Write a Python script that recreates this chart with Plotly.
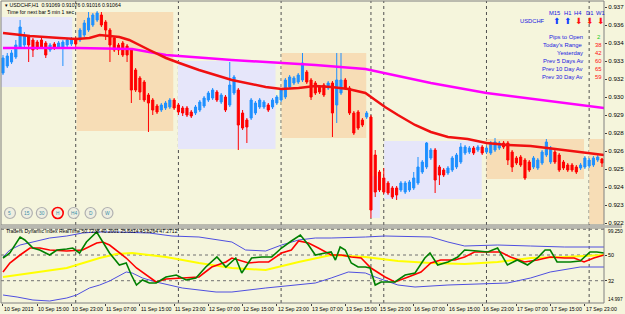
import plotly.graph_objects as go

# ---------------- data ----------------
bar_index = list(range(141))
opens = [0.93238,0.93287,0.93315,0.93350,0.93420,0.93434,0.93490,0.93469,0.93455,0.93469,
         0.93448,0.93399,0.93441,0.93420,0.93413,0.93434,0.93441,0.93476,0.93469,0.93504,
         0.93539,0.93574,0.93609,0.93644,0.93595,0.93539,0.93483,0.93434,0.93448,0.93427,
         0.93399,0.93259,0.93203,0.93175,0.93084,0.93049,0.93007,0.92979,0.92993,0.93000,
         0.93049,0.93014,0.92993,0.92993,0.92965,0.92958,0.92979,0.93007,0.93049,0.93063,
         0.93105,0.93035,0.93070,0.93014,0.93098,0.93119,0.92958,0.92909,0.92923,0.92958,
         0.93000,0.93000,0.93014,0.93000,0.93028,0.93049,0.93070,0.93140,0.93168,0.93175,
         0.93189,0.93245,0.93189,0.93168,0.93140,0.93154,0.93133,0.93168,0.93014,0.93098,
         0.93189,0.93133,0.92958,0.92965,0.92909,0.92930,0.92930,0.92664,0.92545,0.92503,
         0.92468,0.92433,0.92433,0.92419,0.92405,0.92419,0.92433,0.92468,0.92545,0.92580,
         0.92643,0.92699,0.92580,0.92559,0.92538,0.92559,0.92580,0.92615,0.92678,0.92685,
         0.92713,0.92699,0.92720,0.92685,0.92678,0.92699,0.92713,0.92748,0.92748,0.92685,
         0.92643,0.92650,0.92629,0.92615,0.92580,0.92573,0.92608,0.92664,0.92615,0.92685,
         0.92664,0.92615,0.92594,0.92594,0.92580,0.92573,0.92580,0.92587,0.92594,0.92629,
         0.92636]
highs = [0.93364,0.93378,0.93399,0.93469,0.93609,0.93525,0.93504,0.93483,0.93469,0.93483,
         0.93462,0.93448,0.93455,0.93462,0.93469,0.93483,0.93490,0.93490,0.93553,0.93609,
         0.93665,0.93658,0.93672,0.93665,0.93609,0.93553,0.93497,0.93448,0.93462,0.93441,
         0.93413,0.93273,0.93217,0.93189,0.93098,0.93063,0.93021,0.93028,0.93042,0.93063,
         0.93063,0.93028,0.93007,0.93007,0.92979,0.93014,0.93049,0.93077,0.93112,0.93133,
         0.93119,0.93098,0.93084,0.93315,0.93224,0.93133,0.92979,0.92923,0.93063,0.93042,
         0.93063,0.93049,0.93028,0.93063,0.93084,0.93133,0.93203,0.93224,0.93217,0.93238,
         0.93378,0.93259,0.93203,0.93182,0.93154,0.93168,0.93182,0.93182,0.93378,0.93378,
         0.93203,0.93147,0.92972,0.92979,0.92923,0.92972,0.92944,0.92699,0.92559,0.92573,
         0.92482,0.92447,0.92447,0.92482,0.92482,0.92489,0.92545,0.92650,0.92629,0.92755,
         0.92713,0.92713,0.92594,0.92573,0.92587,0.92657,0.92678,0.92748,0.92734,0.92727,
         0.92727,0.92734,0.92734,0.92727,0.92762,0.92783,0.92762,0.92762,0.92762,0.92699,
         0.92657,0.92664,0.92643,0.92629,0.92657,0.92643,0.92699,0.92776,0.92727,0.92699,
         0.92678,0.92629,0.92608,0.92608,0.92594,0.92608,0.92657,0.92643,0.92657,0.92664,
         0.92643]
lows = [0.93224,0.93273,0.93301,0.93336,0.93406,0.93420,0.93315,0.93350,0.93399,0.93406,
        0.93343,0.93385,0.93399,0.93406,0.93287,0.93420,0.93427,0.93420,0.93455,0.93490,
        0.93525,0.93560,0.93595,0.93560,0.93469,0.93315,0.93385,0.93364,0.93350,0.93315,
        0.93028,0.93105,0.93049,0.93035,0.92825,0.92944,0.92951,0.92965,0.92979,0.92986,
        0.92979,0.92944,0.92937,0.92930,0.92923,0.92944,0.92965,0.92993,0.93035,0.93049,
        0.93035,0.93021,0.92965,0.93000,0.93084,0.92699,0.92839,0.92748,0.92909,0.92944,
        0.92986,0.92986,0.92965,0.92986,0.93014,0.93035,0.93056,0.93126,0.93154,0.93161,
        0.93175,0.93161,0.93049,0.93084,0.93091,0.93070,0.93119,0.92790,0.92888,0.93084,
        0.93119,0.92944,0.92804,0.92839,0.92860,0.92916,0.92223,0.92370,0.92405,0.92391,
        0.92384,0.92356,0.92349,0.92405,0.92391,0.92405,0.92419,0.92454,0.92531,0.92566,
        0.92629,0.92398,0.92454,0.92510,0.92524,0.92545,0.92566,0.92601,0.92664,0.92671,
        0.92664,0.92685,0.92664,0.92671,0.92664,0.92685,0.92699,0.92706,0.92594,0.92545,
        0.92594,0.92580,0.92489,0.92545,0.92566,0.92559,0.92594,0.92650,0.92601,0.92601,
        0.92545,0.92559,0.92545,0.92545,0.92531,0.92559,0.92566,0.92573,0.92580,0.92615,
        0.92580]
closes = [0.93343,0.93357,0.93378,0.93434,0.93560,0.93504,0.93434,0.93399,0.93413,0.93420,
          0.93364,0.93434,0.93420,0.93448,0.93455,0.93469,0.93476,0.93441,0.93539,0.93588,
          0.93623,0.93644,0.93658,0.93574,0.93539,0.93434,0.93399,0.93399,0.93364,0.93364,
          0.93119,0.93119,0.93105,0.93049,0.93028,0.92979,0.92965,0.93014,0.93028,0.93049,
          0.92993,0.92965,0.92958,0.92944,0.92937,0.93000,0.93035,0.93063,0.93098,0.93119,
          0.93049,0.93084,0.92979,0.93154,0.93210,0.92874,0.92853,0.92860,0.93049,0.93028,
          0.93049,0.93035,0.92979,0.93049,0.93070,0.93119,0.93189,0.93210,0.93203,0.93224,
          0.93308,0.93175,0.93070,0.93098,0.93105,0.93084,0.93168,0.92958,0.93189,0.93189,
          0.93133,0.92958,0.92818,0.92853,0.92874,0.92958,0.92279,0.92405,0.92419,0.92405,
          0.92398,0.92370,0.92384,0.92468,0.92468,0.92475,0.92503,0.92580,0.92615,0.92748,
          0.92699,0.92489,0.92524,0.92524,0.92573,0.92643,0.92664,0.92720,0.92720,0.92713,
          0.92678,0.92720,0.92678,0.92713,0.92748,0.92755,0.92748,0.92720,0.92629,0.92580,
          0.92608,0.92594,0.92503,0.92559,0.92643,0.92629,0.92685,0.92755,0.92713,0.92615,
          0.92559,0.92573,0.92559,0.92559,0.92545,0.92594,0.92643,0.92629,0.92643,0.92650,
          0.92608]

ma_fast_bar = [0, 6.3, 13.3, 17.2, 20.2, 22.6, 27.2, 29.5, 34.2, 38.1, 41.2, 45.8, 53.5, 61.4, 65.1,
               69.1, 73, 76.7, 80.7, 84.7, 87, 89.3, 92.3, 96.3, 100, 104, 108.6, 113, 117.9, 123.3,
               127.2, 131.2, 137, 140.5]
ma_fast_val = [0.93518, 0.93497, 0.93483, 0.93476, 0.93483, 0.93504, 0.93490, 0.93469, 0.93399, 0.93343,
               0.93308, 0.93259, 0.93189, 0.93140, 0.93126, 0.93133, 0.93147, 0.93140, 0.93126, 0.93098,
               0.93049, 0.93000, 0.92944, 0.92874, 0.92825, 0.92790, 0.92776, 0.92748, 0.92734, 0.92727,
               0.92713, 0.92699, 0.92678, 0.92664]
ma_slow_bar = [0, 17.2, 30.2, 38.1, 53.5, 73, 84.7, 100, 113, 131.2, 140.5]
ma_slow_val = [0.93413, 0.93413, 0.93406, 0.93364, 0.93329, 0.93294, 0.93266, 0.93168, 0.93098, 0.93028, 0.92993]

# session boxes (bar range, price range)
box_x0 = [-0.5, 17.2, 40.9, 65.1, 85.8, 89.1, 113.0, 137.0]
box_x1 = [16.2, 39.8, 63.7, 84.9, 88.1, 111.9, 135.8, 141.0]
box_hi = [0.93630, 0.93665, 0.93322, 0.93378, 0.92517, 0.92762, 0.92776, 0.92776]
box_lo = [0.93140, 0.92832, 0.92706, 0.92783, 0.92223, 0.92356, 0.92496, 0.92181]
box_kind = ['asia', 'europe', 'asia', 'europe', 'asia', 'asia', 'europe', 'europe']

day_separators = [17, 41, 65, 86, 89, 113, 137]

price_ticks = [0.93700, 0.93574, 0.93448, 0.93322, 0.93196, 0.93070, 0.92944,
               0.92818, 0.92692, 0.92566, 0.92440, 0.92314, 0.92188]
price_tick_text = ["0.937", "0.936", "0.934", "0.933", "0.932", "0.930", "0.929",
                   "0.928", "0.926", "0.925", "0.924", "0.923", "0.922"]

time_label_bars = [0, 8, 16, 24, 32, 40, 48, 56, 64, 72, 80, 88, 96, 104, 112, 120, 128, 136]
time_labels = ["10 Sep 2013", "10 Sep 15:00", "10 Sep 23:00", "11 Sep 07:00", "11 Sep 15:00",
               "11 Sep 23:00", "12 Sep 07:00", "12 Sep 15:00", "12 Sep 23:00", "13 Sep 07:00",
               "13 Sep 15:00", "15 Sep 23:00", "16 Sep 07:00", "16 Sep 15:00", "16 Sep 23:00",
               "17 Sep 07:00", "17 Sep 15:00", "17 Sep 23:00"]

# Traders Dynamic Index
rsi_bar = [0, 1.6, 4, 5.1, 7, 8.6, 10.9, 12.6, 14.9, 16.3, 17.9, 19.5, 21.9, 23.3, 24.9, 27.2, 28.8, 30,
           31.2, 32.6, 34.2, 35.8, 38.1, 40.5, 42.8, 45.1, 47.4, 50, 52.1, 54.4, 55.8, 58.1, 60.5, 62.8,
           65.1, 67.4, 69.5, 71.4, 73, 75.3, 76.7, 77.7, 78.8, 80, 81.4, 83, 84.7, 85.8, 87, 88.4, 90,
           91.6, 94, 96.3, 98.6, 99.8, 101.6, 104, 106.3, 107.9, 110.9, 113.3, 115.6, 117.9, 120.2,
           122.6, 124.9, 126.7, 127.9, 129.5, 132.6, 134.9, 137.2, 138.8, 140.5]
rsi_val = [47.9, 51.4, 62.6, 60.5, 54.9, 53.5, 50, 53.5, 54.2, 54.9, 51.4, 59.1, 66.1, 59.1, 51.4, 43,
           44.4, 36, 29, 32.5, 30.4, 30.4, 34.6, 36, 32.5, 33.9, 41.6, 48.6, 41.6, 47.9, 37.4, 47.9,
           48.6, 48.6, 54.9, 59.8, 64, 57, 50, 51.4, 52.1, 46.5, 55.6, 53.5, 44.4, 41.6, 41.6, 40.9,
           29, 31.1, 31.1, 31.1, 36, 37.4, 47.9, 51.4, 43, 45.1, 48.6, 53.5, 52.8, 52.1, 54.9, 43,
           46.5, 43, 47.9, 53.5, 53.5, 45.1, 45.1, 45.8, 52.1, 52.1, 51.4]
sig_bar = [0, 1.6, 4, 6.3, 8.6, 10.9, 14.9, 18.6, 21.9, 23.3, 24.9, 27.2, 28.8, 31.2, 33.5, 35.8, 38.1,
           41.9, 45.8, 48.8, 52.1, 53.5, 55.8, 57.4, 59.8, 62.1, 65.1, 67.4, 69.1, 71.4, 73.7, 75.3,
           76.7, 79.1, 81.4, 83.7, 86, 89.3, 91.6, 94.7, 97.7, 100, 102.3, 105.6, 107.9, 110.2, 113.3,
           116.3, 118.6, 121.9, 124.9, 127.9, 131.2, 133.5, 135.8, 138.1, 140.5]
sig_val = [38.1, 44.4, 50, 54.9, 54.9, 53.5, 52.8, 53.5, 58.4, 59.1, 57, 51.4, 47.9, 40.9, 36, 31.1,
           33.2, 33.9, 34.6, 41.6, 45.1, 47.9, 45.8, 44.4, 45.1, 45.1, 51.4, 53.5, 59.8, 58.4, 54.9,
           52.1, 50, 50, 48.6, 47.9, 40.9, 34.6, 31.1, 34.6, 38.1, 44.4, 46.5, 46.5, 48.6, 52.1, 52.1,
           52.1, 48.6, 45.1, 46.5, 48.6, 47.9, 47.9, 45.1, 47.9, 50]
base_bar = [0, 7, 14.9, 22.6, 26.5, 30.2, 38.1, 45.8, 53.5, 61.4, 69.1, 76.7, 84.7, 92.3, 100, 107.9,
            115.6, 123.3, 131.2, 140.5]
base_val = [34.6, 37.4, 40.9, 47.9, 50.7, 51.4, 48.6, 44.4, 40.9, 39.5, 45.1, 50, 48.6, 45.8, 44.4,
            43.7, 45.1, 47.9, 48.6, 50]
up_bar = [0, 1.6, 4, 7, 10.9, 14.9, 18.6, 21.9, 26.5, 34.2, 39.5, 45.8, 53.5, 56.7, 61.4, 65.1, 69.1,
          73, 76.7, 84.7, 89.3, 100, 104, 107.9, 115.6, 123.3, 131.2, 140.5]
up_val = [48.6, 53.5, 57, 59.1, 61.9, 63.3, 65.4, 66.1, 66.1, 65.4, 63.3, 62.6, 59.1, 53.5, 52.8, 57,
          60.5, 61.9, 61.9, 62.6, 63.3, 62.6, 59.1, 56.3, 57, 56.3, 55.6, 55.6]
lo_bar = [0, 3.3, 7, 10.9, 14.9, 17.2, 20.2, 22.6, 24.9, 28.8, 30.2, 32.6, 35.8, 41.9, 49.8, 53.5, 61.4,
          69.1, 73, 76.7, 80.7, 84.7, 87, 92.3, 96.3, 104, 111.6, 117.9, 123.3, 127.9, 134.9, 140.5]
lo_val = [22, 20.6, 18.5, 17.8, 19.9, 22, 26.9, 29, 31.8, 38.1, 37.4, 33.9, 31.1, 26.9, 24.1, 24.1,
          26.9, 29, 30.4, 33.9, 38.1, 37.4, 34.6, 29, 27.6, 29, 29.7, 30.4, 33.9, 38.1, 41.6, 41.6]
tdi_levels = [68, 50, 32]

# ---------------- layout helpers (pixel geometry) ----------------
W, H = 625, 314
L, R, T, B = 1, 607, 1, 303
def px(x):
    return (x - L) / (R - L)
def py(y):
    return (B - y) / (B - T)

BG = '#F5F5DC'
font = "Liberation Sans, Arial, sans-serif"

fig = go.Figure()

fig.add_trace(go.Candlestick(
    x=bar_index, open=opens, high=highs, low=lows, close=closes,
    increasing=dict(line=dict(color='#1E90FF', width=1), fillcolor='#1E90FF'),
    decreasing=dict(line=dict(color='#FF0000', width=1), fillcolor='#FF0000'),
    whiskerwidth=0, hoverinfo='skip', showlegend=False, xaxis='x', yaxis='y'))
fig.add_trace(go.Scatter(x=ma_slow_bar, y=ma_slow_val, mode='lines',
                         line=dict(color='#FF00FF', width=2.5), showlegend=False,
                         hoverinfo='skip', xaxis='x', yaxis='y'))
fig.add_trace(go.Scatter(x=ma_fast_bar, y=ma_fast_val, mode='lines',
                         line=dict(color='#F01010', width=2.5), showlegend=False,
                         hoverinfo='skip', xaxis='x', yaxis='y'))

for bx, bv, col, wd in [(up_bar, up_val, '#4F4FE0', 1), (lo_bar, lo_val, '#4F4FE0', 1),
                        (base_bar, base_val, '#FFFF00', 2), (sig_bar, sig_val, '#FF0000', 1.6),
                        (rsi_bar, rsi_val, '#008000', 1.6)]:
    fig.add_trace(go.Scatter(x=bx, y=bv, mode='lines', line=dict(color=col, width=wd),
                             showlegend=False, hoverinfo='skip', xaxis='x', yaxis='y2'))

shapes = []
for x0, x1, lo, hi, kind in zip(box_x0, box_x1, box_lo, box_hi, box_kind):
    shapes.append(dict(type='rect', xref='x', yref='y', x0=x0, x1=x1, y0=lo, y1=hi,
                       fillcolor='#E6E6FA' if kind == 'asia' else '#F7DDB6',
                       line=dict(width=0), layer='below'))
for s in day_separators:
    for y0, y1 in [(py(225), py(1)), (py(303), py(228))]:
        shapes.append(dict(type='line', xref='x', yref='paper', x0=s, x1=s, y0=y0, y1=y1,
                           line=dict(color='#505050', width=1, dash='dot'), layer='below'))
for lv in tdi_levels:
    shapes.append(dict(type='line', xref='paper', yref='y2', x0=0, x1=1, y0=lv, y1=lv,
                       line=dict(color='#707070', width=1, dash='dot'), layer='below'))
# panel frames and separator
shapes.append(dict(type='rect', xref='paper', yref='paper', x0=0, x1=1, y0=py(225), y1=1,
                   line=dict(color='#808080', width=1)))
shapes.append(dict(type='rect', xref='paper', yref='paper', x0=0, x1=1, y0=0, y1=py(228),
                   line=dict(color='#808080', width=1)))
shapes.append(dict(type='rect', xref='paper', yref='paper', x0=px(0), x1=px(625), y0=py(228), y1=py(225),
                   fillcolor='#B8B8B0', line=dict(width=0)))

annotations = []
for b, t in zip(time_label_bars, time_labels):
    annotations.append(dict(x=b - 0.3, y=py(309), xref='x', yref='paper', text=t, showarrow=False,
                            xanchor='left', yanchor='middle', font=dict(size=5.2, color='black', family=font)))
def txt(x, y, s, color='black', size=5.2, anchor='left', fam=font):
    annotations.append(dict(x=px(x), y=py(y), xref='paper', yref='paper', text=s, showarrow=False,
                            xanchor=anchor, yanchor='middle', font=dict(size=size, color=color, family=fam)))

txt(3, 5, "▾ USDCHF,H1  0.91069 0.91076 0.91016 0.91064", size=5.2)
txt(5, 12, "Time for next bar 5 min 1 sec", size=5.2)
txt(4, 231, "Traders Dynamic Index RealTime 50.7238 40.2001 25.6814 45.8264 47.2712", size=5)

# multi timeframe panel
for lab, xx in zip(["M15", "H1", "H4", "D1", "W1"], [557, 570, 581, 592, 603]):
    txt(xx, 13, lab, color='#2020E0', size=5.8, anchor='center')
txt(550, 21, "USDCHF", color='#2020E0', size=5.8, anchor='right')
for xx, up in zip([559, 570, 581, 592, 603], [True, True, False, False, False]):
    txt(xx, 21, "⬆" if up else "⬇", color='#1040FF' if up else '#FF1010', size=8.5, anchor='center',
        fam="DejaVu Sans")
stat_labels = ["Pips to Open", "Today's Range", "Yesterday", "Prev 5 Days Av", "Prev 10 Day Av", "Prev 30 Day Av"]
stat_values = ["2", "38", "42", "60", "65", "59"]
for k, (lab, val) in enumerate(zip(stat_labels, stat_values)):
    yy = 37 + 8 * k
    txt(588, yy, lab, color='#2020E0', size=5.9, anchor='right')
    txt(601, yy, val, color='#22CC22' if k == 0 else '#FF1010', size=5.9, anchor='center')

# timeframe buttons
for lab, xx in zip(["5", "15", "30", "H", "H4", "D", "W"], [10, 27, 42, 58, 74, 91, 108]):
    r = 5.5
    shapes.append(dict(type='circle', xref='paper', yref='paper', x0=px(xx - r), x1=px(xx + r),
                       y0=py(213 + r), y1=py(213 - r), fillcolor='#EEEEE0',
                       line=dict(color='#FF0000' if lab == 'H' else '#B0B0B0', width=1.6 if lab == 'H' else 1.2)))
    txt(xx, 213, lab, color='#3A8FA8', size=4.8, anchor='center')

txt(609, 231, "99.250", size=4.8)
txt(609, 299, "14.997", size=4.8)

fig.update_layout(
    width=W, height=H, margin=dict(l=L, r=W - R, t=T, b=H - B),
    paper_bgcolor=BG, plot_bgcolor=BG,
    shapes=shapes, annotations=annotations,
    xaxis=dict(range=[-0.465, 140.47], showgrid=False, zeroline=False, showticklabels=False,
               tickvals=time_label_bars, ticks='outside', ticklen=2, tickcolor='#404040',
               rangeslider=dict(visible=False), anchor='y2', fixedrange=True),
    yaxis=dict(domain=[py(225), 1], range=[0.92174, 0.93742], side='right', showgrid=False,
               zeroline=False, tickvals=price_ticks, ticktext=price_tick_text, ticks='outside',
               ticklen=2, tickcolor='#404040', tickfont=dict(size=6.2, family=font, color='black'),
               anchor='x'),
    yaxis2=dict(domain=[0, py(228)], range=[16.4, 68.9], side='right', showgrid=False,
                zeroline=False, tickvals=[50, 32], ticktext=['50', '32'], ticks='outside',
                ticklen=2, tickcolor='#404040', tickfont=dict(size=5.4, family=font, color='black'),
                anchor='x'),
)

fig.write_html("out.html")
